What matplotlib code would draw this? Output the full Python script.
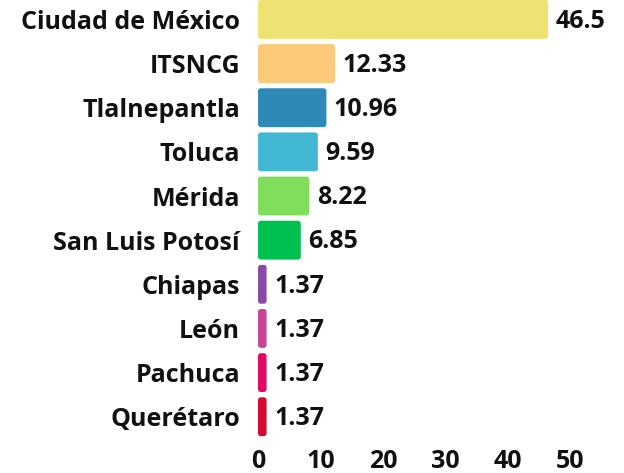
import matplotlib
matplotlib.use("Agg")
import matplotlib.pyplot as plt
from matplotlib.patches import FancyBboxPatch

# datos (porcentaje)
sedes = ["Ciudad de México", "ITSNCG", "Tlalnepantla", "Toluca", "Mérida",
         "San Luis Potosí", "Chiapas", "León", "Pachuca", "Querétaro"]
valores = [46.5, 12.33, 10.96, 9.59, 8.22, 6.85, 1.37, 1.37, 1.37, 1.37]
etiquetas = ["46.5", "12.33", "10.96", "9.59", "8.22", "6.85",
             "1.37", "1.37", "1.37", "1.37"]
colores = ["#EDE273", "#FDC97A", "#2E88B8", "#43B8D4", "#80DE5C",
           "#00C050", "#8A4BA8", "#C84495", "#E00A66", "#D00A30"]
xticks = [0, 10, 20, 30, 40, 50]

plt.rcParams['font.family'] = ['Open Sans', 'DejaVu Sans']
fs = 18

fig = plt.figure(figsize=(6.24, 4.73), dpi=100)
ax = fig.add_axes([0.4135, 0.0723, 0.55, 0.9277])

pos = list(range(len(sedes)))
bars = ax.barh(pos, valores, height=0.88, color=colores)

# esquinas redondeadas
for b in bars:
    b.set_visible(False)
    p = FancyBboxPatch((b.get_x(), b.get_y()), b.get_width(), b.get_height(),
                       boxstyle="round,pad=0,rounding_size=0.45",
                       mutation_aspect=0.14, facecolor=b.get_facecolor(),
                       edgecolor="none")
    ax.add_patch(p)

for i, (v, t) in enumerate(zip(valores, etiquetas)):
    ax.text(v + 1.2, i + 0.04, t, va="center", ha="left", fontsize=fs,
            fontweight="bold", color="#111111")

ax.set_yticks(pos)
ax.set_yticklabels(sedes, fontsize=fs, fontweight="bold", color="#111111")
ax.set_xticks(xticks)
ax.set_xticklabels([str(x) for x in xticks], fontsize=fs, fontweight="bold",
                   color="#111111")
ax.tick_params(length=0)
ax.tick_params(axis="y", pad=13)
ax.tick_params(axis="x", pad=7)
ax.set_xlim(0, 55)
ax.set_ylim(9.5, -0.44)
for s in ax.spines.values():
    s.set_visible(False)

fig.savefig("out.png", dpi=100)
